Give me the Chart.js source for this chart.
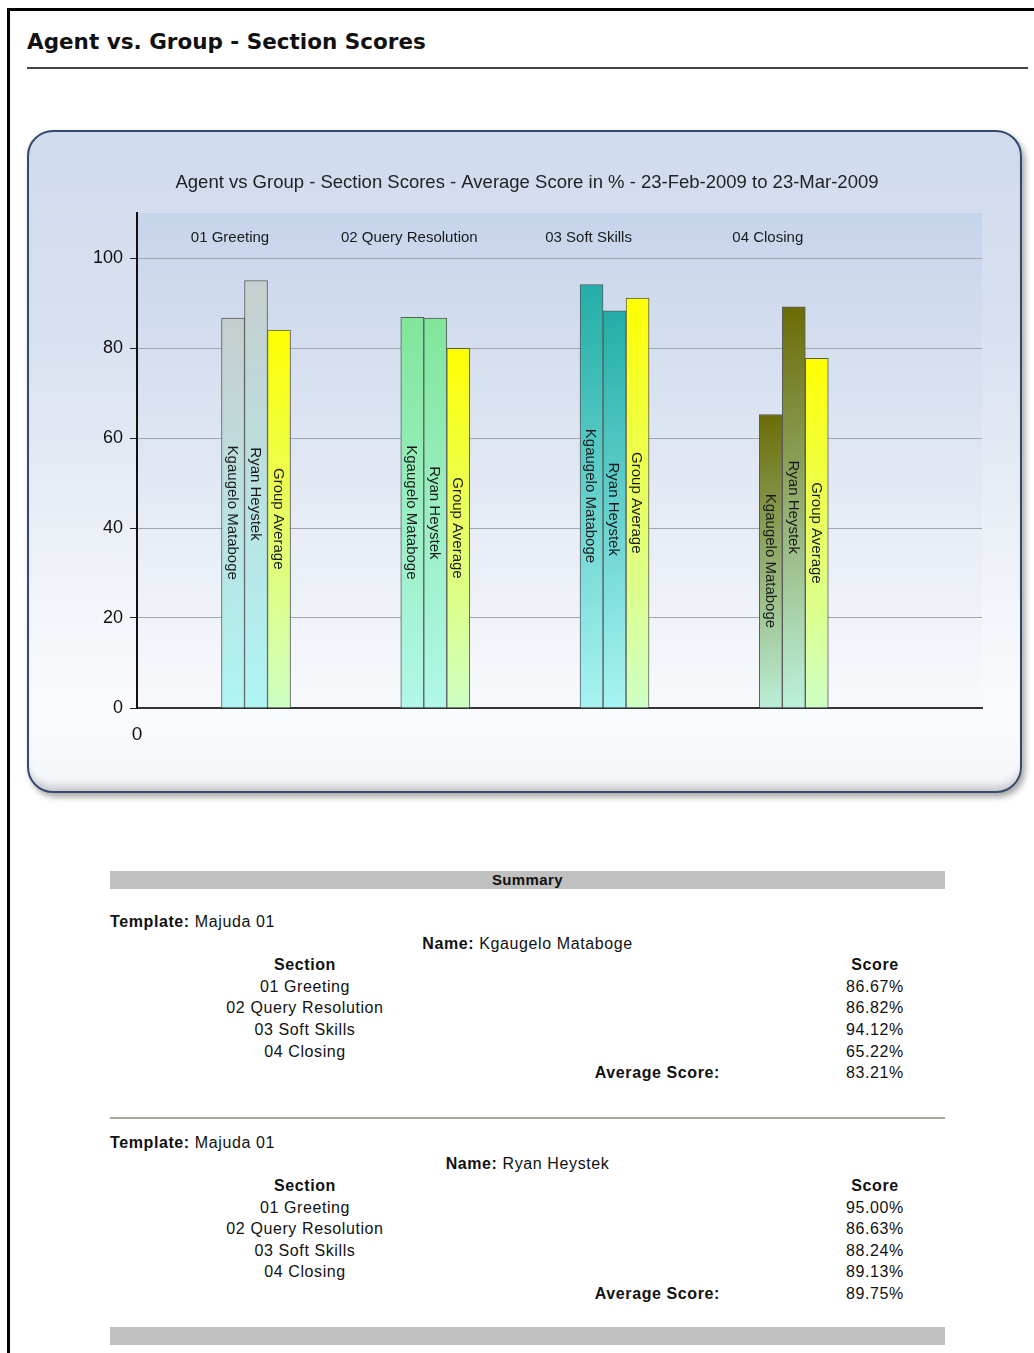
<!DOCTYPE html>
<html>
<head>
<meta charset="utf-8">
<script src="https://cdn.jsdelivr.net/npm/chart.js@4.4.1/dist/chart.umd.min.js"></script>
<style>
  body { margin: 0; background: #fff; font-family: 'Liberation Sans', Arial, sans-serif; color: #111; }
  #frame { position: absolute; left: 7px; top: 8px; width: 1100px; height: 2000px; border: 3px solid #000; }
  #heading { position: absolute; left: 27px; top: 29px; font: bold 21.5px 'DejaVu Sans', Verdana, sans-serif; color: #111; }
  #rule { position: absolute; left: 27px; top: 67px; width: 1001px; height: 2px; background: #444; }
  #panel {
    position: absolute; left: 27px; top: 130px; width: 995px; height: 663px; box-sizing: border-box;
    border: 2px solid #34496e; border-radius: 26px;
    background: linear-gradient(#d0dbee 0%, #d8e1f0 30%, #eef2f8 65%, #fafbfd 88%, #f4f6fa 100%);
    box-shadow: 3px 4px 6px rgba(0,0,0,0.35), inset 0 -10px 10px -6px rgba(0,0,0,0.22);
  }
  #chart { position: absolute; left: 27px; top: 130px; }
  #summary { position: absolute; left: 110px; top: 871px; width: 835px; font-size: 16px; letter-spacing: 0.6px; }
  .bar { height: 18px; line-height: 18px; background: #c0c0c0; text-align: center; font-weight: bold; font-size: 15px; letter-spacing: 0.4px; }
  .row { height: 21.6px; line-height: 21.6px; display: flex; white-space: nowrap; }
  .c1 { width: 390px; text-align: center; }
  .c2 { width: 305px; text-align: right; padding-right: 85px; box-sizing: border-box; font-weight: bold; }
  .c3 { width: 140px; text-align: center; }
  .sep { height: 2px; background: #aaa89a; }
</style>
</head>
<body>
<div id="frame"></div>
<div id="heading">Agent vs. Group - Section Scores</div>
<div id="rule"></div>
<div id="panel"></div>
<canvas id="chart" width="995" height="663"></canvas>
<div id="summary"></div>

<script>
// ===============================
// DATA
// ===============================
const categories = ['01 Greeting', '02 Query Resolution', '03 Soft Skills', '04 Closing'];
const seriesNames = ['Kgaugelo Mataboge', 'Ryan Heystek', 'Group Average'];
const kgaugeloScores = [86.67, 86.82, 94.12, 65.22];
const ryanScores = [95.00, 86.63, 88.24, 89.13];
const groupAverage = [84.0, 79.9, 91.1, 77.7];
const averageScores = [83.21, 89.75];
const templateName = 'Majuda 01';
const yTicks = [0, 20, 40, 60, 80, 100];

// colours: agents coloured by section, group average always yellow
const sectionTop = ['#c5cece', '#80e69a', '#22ada6', '#6b6b05'];
const sectionBottom = ['#aff5f5', '#b2f8ea', '#aaf5f5', '#bdf4e0'];
const avgTop = '#ffff00';
const avgBottom = '#cdffc9';

const BAR_W = 23;

function barGradient(ctx) {
  const chart = ctx.chart;
  const ds = ctx.datasetIndex;
  const i = ctx.dataIndex;
  const top = ds === 2 ? avgTop : sectionTop[i];
  const bottom = ds === 2 ? avgBottom : sectionBottom[i];
  if (!chart.chartArea || !ctx.parsed) return top;
  const xs = chart.scales.x, ys = chart.scales.y;
  const cx = xs.getPixelForValue(ctx.parsed.x) + (ds - 1) * BAR_W;
  const yTop = ys.getPixelForValue(ctx.parsed.y);
  const yBase = ys.getPixelForValue(0);
  const g = chart.ctx.createLinearGradient(cx - BAR_W / 2, yTop, cx + BAR_W / 2 + 40, yBase);
  g.addColorStop(0, top);
  g.addColorStop(1, bottom);
  return g;
}

const toPoints = arr => arr.map((v, i) => ({ x: i + 1, y: v }));

const barStyle = {
  backgroundColor: barGradient,
  borderColor: '#5a5a5a',
  borderWidth: 1,
  borderSkipped: 'bottom',
  barThickness: BAR_W
};

// plot background + section labels + names inside bars
const decor = {
  id: 'decor',
  beforeDraw(chart) {
    const { ctx, chartArea: a } = chart;
    const g = ctx.createLinearGradient(0, a.top, 0, a.bottom);
    g.addColorStop(0, '#c6d4eb');
    g.addColorStop(0.55, '#e3e9f4');
    g.addColorStop(1, '#f8f9fc');
    ctx.save();
    ctx.fillStyle = g;
    ctx.fillRect(a.left, a.top, a.right - a.left, a.bottom - a.top);
    ctx.restore();
  },
  afterDatasetsDraw(chart) {
    const { ctx, chartArea: a } = chart;
    ctx.save();
    ctx.fillStyle = '#1a1a1a';
    ctx.font = '15px "Liberation Sans", Arial, sans-serif';
    ctx.textAlign = 'center';
    ctx.textBaseline = 'middle';
    categories.forEach((c, i) => {
      ctx.fillText(c, chart.scales.x.getPixelForValue(i + 1) - 26, a.top + 25);
    });
    chart.data.datasets.forEach((d, di) => {
      chart.getDatasetMeta(di).data.forEach(el => {
        ctx.save();
        ctx.translate(el.x, (el.y + el.base) / 2);
        ctx.rotate(Math.PI / 2);
        ctx.fillText(d.label, 0, 1);
        ctx.restore();
      });
    });
    // chart title
    ctx.font = '18.5px "Liberation Sans", Arial, sans-serif';
    ctx.fillStyle = '#222';
    ctx.fillText('Agent vs Group - Section Scores - Average Score in % - 23-Feb-2009 to 23-Mar-2009', 500, 53);
    ctx.restore();
  }
};

new Chart(document.getElementById('chart'), {
  type: 'bar',
  data: {
    datasets: [
      { label: seriesNames[0], data: toPoints(kgaugeloScores), ...barStyle },
      { label: seriesNames[1], data: toPoints(ryanScores), ...barStyle },
      { label: seriesNames[2], data: toPoints(groupAverage), ...barStyle }
    ]
  },
  options: {
    responsive: false,
    animation: false,
    layout: { padding: { left: 0, right: 40, top: 83, bottom: 0 } },
    plugins: { legend: { display: false }, tooltip: { enabled: false } },
    scales: {
      x: {
        type: 'linear',
        offset: false,
        min: 0.336,
        max: 5.05,
        afterBuildTicks: s => { s.ticks = [{ value: s.min }]; },
        afterFit: s => { s.height = 85; },
        grid: { display: false },
        border: { color: '#333', width: 2 },
        ticks: {
          callback: () => '0',
          color: '#111',
          padding: 7,
          font: { size: 19, family: '"Liberation Sans", Arial, sans-serif' }
        }
      },
      y: {
        min: 0,
        max: 110,
        afterBuildTicks: s => { s.ticks = yTicks.map(v => ({ value: v })); },
        afterFit: s => { s.width = 110; },
        grid: { color: '#a2a6ae', tickColor: '#222', tickLength: 7 },
        border: { color: '#111', width: 2 },
        ticks: {
          color: '#111',
          padding: 7,
          font: { size: 18, family: '"Liberation Sans", Arial, sans-serif' }
        }
      }
    }
  },
  plugins: [decor]
});

// ===============================
// SUMMARY TABLE
// ===============================
const agents = [
  { name: seriesNames[0], scores: kgaugeloScores, avg: averageScores[0] },
  { name: seriesNames[1], scores: ryanScores, avg: averageScores[1] }
];
let html = '<div class="bar">Summary</div>';
agents.forEach((a, k) => {
  html += `<div style="height:${k === 0 ? 22 : 13}px"></div>`;
  html += `<div class="row"><span><b>Template:</b> ${templateName}</span></div>`;
  html += `<div class="row" style="justify-content:center"><span><b>Name:</b> ${a.name}</span></div>`;
  html += '<div class="row"><span class="c1"><b>Section</b></span><span class="c2"></span><span class="c3"><b>Score</b></span></div>';
  categories.forEach((c, i) => {
    html += `<div class="row"><span class="c1">${c}</span><span class="c2"></span><span class="c3">${a.scores[i].toFixed(2)}%</span></div>`;
  });
  html += `<div class="row"><span class="c1"></span><span class="c2">Average Score:</span><span class="c3">${a.avg.toFixed(2)}%</span></div>`;
  if (k === 0) html += '<div style="height:33px"></div><div class="sep"></div>';
});
html += '<div style="height:22px"></div><div class="bar"></div>';
document.getElementById('summary').innerHTML = html;
</script>
</body>
</html>
